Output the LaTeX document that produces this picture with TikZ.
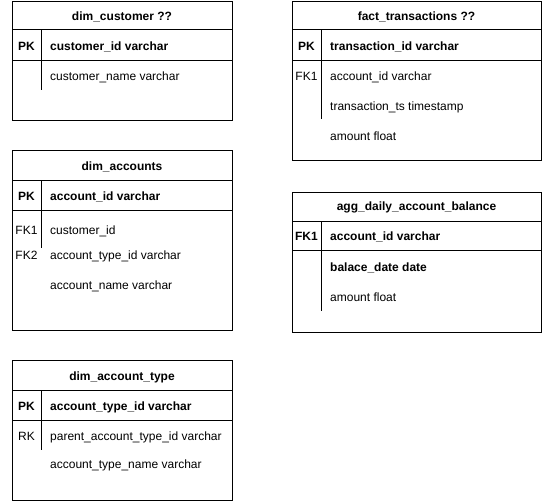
\documentclass[tikz,border=0pt]{standalone}
\usepackage{fontspec}
\setmainfont{Liberation Sans}
\begin{document}
\begin{tikzpicture}[x=1pt,y=-1pt,
  tbl/.style={draw=black,line width=0.8pt,fill=white,anchor=north west,inner sep=0pt},
  sep/.style={draw=black,line width=0.8pt},
  txt/.style={font=\fontsize{12}{14}\selectfont,text height=8.6pt,text depth=0pt,inner sep=0pt},
  fld/.style={txt,anchor=west},
  bfld/.style={txt,anchor=west,font=\fontsize{12}{14}\selectfont\bfseries},
  ttl/.style={txt,anchor=center,font=\fontsize{12}{14}\selectfont\bfseries},
  key/.style={txt,anchor=center},
  bkey/.style={txt,anchor=center,font=\fontsize{12}{14}\selectfont\bfseries}]
\useasboundingbox (0,0) rectangle (542,501);
% dim_customer
\node[tbl,minimum width=220pt,minimum height=119pt] (c) at (12,1) {};
\draw[sep] (12,29.5) -- (232,29.5);
\draw[sep] (12,60) -- (232,60);
\draw[sep] (41,29.5) -- (41,90);
\node[ttl] (ct) at (122,16) {dim\_customer ??};
\node[bkey] (ck1) at (26.5,46.5) {PK};
\node[bfld] (cf1) at (50,46.5) {customer\_id varchar};
\node[fld] (cf2) at (50,76.5) {customer\_name varchar};
% fact_transactions
\node[tbl,minimum width=249pt,minimum height=159pt] (f) at (292,1) {};
\draw[sep] (292,29.5) -- (541,29.5);
\draw[sep] (292,60) -- (541,60);
\draw[sep] (321,29.5) -- (321,119);
\node[ttl] (ft) at (416.5,16) {fact\_transactions ??};
\node[bkey] (fk1) at (306.5,46.5) {PK};
\node[bfld] (ff1) at (330,46.5) {transaction\_id varchar};
\node[key] (fk2) at (306.5,76.5) {FK1};
\node[fld] (ff2) at (330,76.5) {account\_id varchar};
\node[fld] (ff3) at (330,106.5) {transaction\_ts timestamp};
\node[fld] (ff4) at (330,136) {amount float};
% dim_accounts
\node[tbl,minimum width=220pt,minimum height=180pt] (a) at (12,150) {};
\draw[sep] (12,180.5) -- (232,180.5);
\draw[sep] (12,210) -- (232,210);
\draw[sep] (41,180.5) -- (41,248);
\node[ttl] (at) at (122,166) {dim\_accounts};
\node[bkey] (ak1) at (26.5,196.5) {PK};
\node[bfld] (af1) at (50,196.5) {account\_id varchar};
\node[key] (ak2) at (26.5,230.5) {FK1};
\node[fld] (af2) at (50,230.5) {customer\_id};
\node[key] (ak3) at (26.5,255.5) {FK2};
\node[fld] (af3) at (50,255.5) {account\_type\_id varchar};
\node[fld] (af4) at (50,285) {account\_name varchar};
% agg_daily_account_balance
\node[tbl,minimum width=249pt,minimum height=140pt] (g) at (292,191.5) {};
\draw[sep] (292,221.5) -- (541,221.5);
\draw[sep] (292,250.5) -- (541,250.5);
\draw[sep] (321,221.5) -- (321,311);
\node[ttl] (gt) at (416.5,206.5) {agg\_daily\_account\_balance};
\node[bkey] (gk1) at (306.5,236.5) {FK1};
\node[bfld] (gf1) at (330,236.5) {account\_id varchar};
\node[bfld] (gf2) at (330,267) {balace\_date date};
\node[fld] (gf3) at (330,297) {amount float};
% dim_account_type
\node[tbl,minimum width=220pt,minimum height=140pt] (t) at (12,360) {};
\draw[sep] (12,390.5) -- (232,390.5);
\draw[sep] (12,420) -- (232,420);
\draw[sep] (41,390.5) -- (41,450);
\node[ttl] (tt) at (122,376) {dim\_account\_type};
\node[bkey] (tk1) at (26.5,406.5) {PK};
\node[bfld] (tf1) at (50,406.5) {account\_type\_id varchar};
\node[key] (tk2) at (26.5,436.5) {RK};
\node[fld] (tf2) at (50,436.5) {parent\_account\_type\_id varchar};
\node[fld] (tf3) at (50,464.5) {account\_type\_name varchar};
\end{tikzpicture}
\end{document}
